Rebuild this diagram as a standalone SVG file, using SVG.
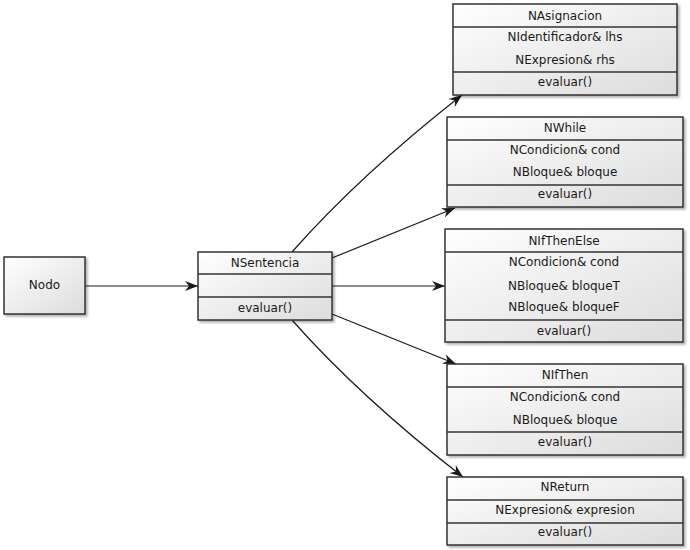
<svg xmlns="http://www.w3.org/2000/svg" width="690" height="550" viewBox="0 0 690 550">
<style>
.box{fill:url(#g);stroke:#333;stroke-width:1.5;filter:url(#sh)}
.sep{stroke:#333;stroke-width:1.5}
text{font-family:"DejaVu Sans","Liberation Sans",sans-serif;font-size:12px;fill:#1a1a1a;text-anchor:middle}
.c{fill:none;stroke:#1a1a1a;stroke-width:1.2;marker-end:url(#arr)}
</style>
<defs>
<linearGradient id="g" x1="0" y1="0" x2="1" y2="1">
<stop offset="0" stop-color="#ffffff"/>
<stop offset="1" stop-color="#dcdcdc"/>
</linearGradient>
<filter id="sh" x="-10%" y="-10%" width="130%" height="130%">
<feDropShadow dx="2" dy="2" stdDeviation="1.2" flood-color="#000" flood-opacity="0.3"/>
</filter>
<marker id="arr" markerUnits="userSpaceOnUse" markerWidth="14" markerHeight="12" refX="13" refY="5" orient="auto" viewBox="0 0 14 10">
<path d="M0,0 L13,5 L0,10 L4,5 Z" fill="#1a1a1a"/>
</marker>
</defs>
<rect width="690" height="550" fill="#fff"/>
<g id="connectors">
<path class="c" d="M85,286 L198,286"/>
<path class="c" d="M292,252 Q360,175 462,95"/>
<path class="c" d="M332,258 L455,208"/>
<path class="c" d="M332,286 L445,286"/>
<path class="c" d="M332,314 L456,364"/>
<path class="c" d="M292,320 Q360,397 463,477"/>
</g>
<g id="Nodo">
<rect class="box" x="4" y="257" width="81" height="57"/>
<text x="44.5" y="289">Nodo</text>
</g>
<g id="NSentencia">
<rect class="box" x="198" y="252" width="134" height="68"/>
<line class="sep" x1="198" y1="274" x2="332" y2="274"/>
<line class="sep" x1="198" y1="297" x2="332" y2="297"/>
<text x="265" y="267">NSentencia</text>
<text x="265" y="312">evaluar()</text>
</g>
<g id="NAsignacion">
<rect class="box" x="453" y="4" width="224" height="91"/>
<line class="sep" x1="453" y1="27" x2="677" y2="27"/>
<line class="sep" x1="453" y1="72" x2="677" y2="72"/>
<text x="565" y="19.5">NAsignacion</text>
<text x="565" y="40.5">NIdentificador&amp; lhs</text>
<text x="565" y="64">NExpresion&amp; rhs</text>
<text x="565" y="86">evaluar()</text>
</g>
<g id="NWhile">
<rect class="box" x="447" y="117" width="236" height="90"/>
<line class="sep" x1="447" y1="140" x2="683" y2="140"/>
<line class="sep" x1="447" y1="185" x2="683" y2="185"/>
<text x="565" y="131.5">NWhile</text>
<text x="565" y="153.5">NCondicion&amp; cond</text>
<text x="565" y="175.5">NBloque&amp; bloque</text>
<text x="565" y="198">evaluar()</text>
</g>
<g id="NIfThenElse">
<rect class="box" x="445" y="229" width="238" height="113"/>
<line class="sep" x1="445" y1="252" x2="683" y2="252"/>
<line class="sep" x1="445" y1="320" x2="683" y2="320"/>
<text x="564" y="244.5">NIfThenElse</text>
<text x="564" y="266">NCondicion&amp; cond</text>
<text x="564" y="289.5">NBloque&amp; bloqueT</text>
<text x="564" y="311">NBloque&amp; bloqueF</text>
<text x="564" y="335">evaluar()</text>
</g>
<g id="NIfThen">
<rect class="box" x="447" y="364" width="236" height="91"/>
<line class="sep" x1="447" y1="387" x2="683" y2="387"/>
<line class="sep" x1="447" y1="432" x2="683" y2="432"/>
<text x="565" y="379">NIfThen</text>
<text x="565" y="400.5">NCondicion&amp; cond</text>
<text x="565" y="424">NBloque&amp; bloque</text>
<text x="565" y="446">evaluar()</text>
</g>
<g id="NReturn">
<rect class="box" x="447" y="477" width="236" height="68"/>
<line class="sep" x1="447" y1="500" x2="683" y2="500"/>
<line class="sep" x1="447" y1="523" x2="683" y2="523"/>
<text x="565" y="491">NReturn</text>
<text x="565" y="514">NExpresion&amp; expresion</text>
<text x="565" y="536">evaluar()</text>
</g>
</svg>
